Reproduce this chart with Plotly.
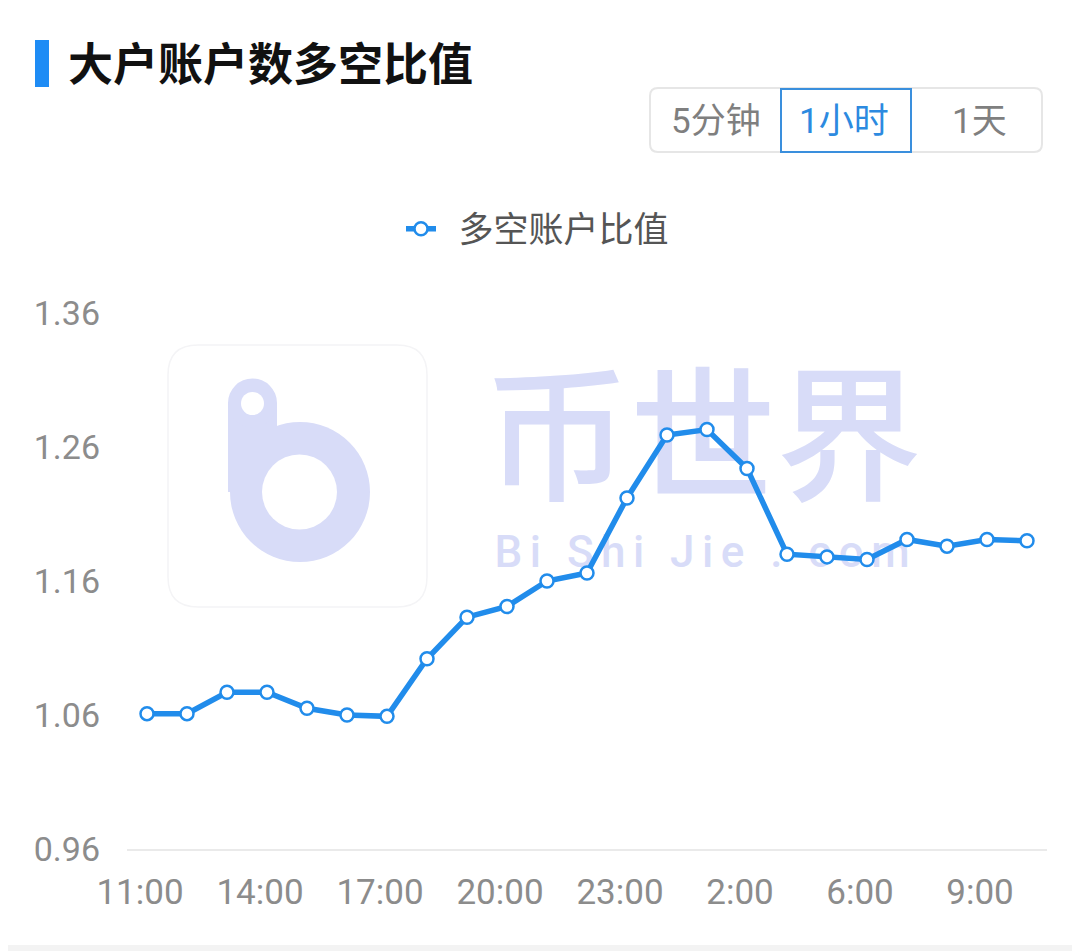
import plotly.graph_objects as go

# hourly long/short account ratio of large holders
hours = [
    "11:00", "12:00", "13:00", "14:00", "15:00", "16:00", "17:00", "18:00",
    "19:00", "20:00", "21:00", "22:00", "23:00", "0:00", "1:00", "2:00",
    "3:00", "4:00", "6:00", "7:00", "8:00", "9:00", "10:00",
]
ratio = [
    1.061, 1.061, 1.077, 1.077, 1.065, 1.060, 1.059, 1.102,
    1.133, 1.141, 1.160, 1.166, 1.222, 1.269, 1.273, 1.244,
    1.180, 1.178, 1.176, 1.191, 1.186, 1.191, 1.190,
]
label_hours = ["11:00", "14:00", "17:00", "20:00", "23:00", "2:00", "6:00", "9:00"]
y_ticks = [0.96, 1.06, 1.16, 1.26, 1.36]

BLUE = "#218CEB"
GREY = "#8C8C8C"
LAV = "#D8DCF8"
CJK = "Noto Sans CJK SC"
NUM = "Roboto, 'Noto Sans CJK SC', sans-serif"

W, H = 1080, 951
PAGE = 8  # body margin of the html page
L, R, T, B = 127, 1047, 313, 849  # plot area, in screen pixels


def px(x):
    return (x - L) / (R - L)


def py(y):
    return (B - y) / (B - T)


def rounded_rect(x0, y0, x1, y1, r):
    # pixel box -> paper path with rounded corners
    pts = [
        f"M {px(x0 + r)},{py(y0)}", f"L {px(x1 - r)},{py(y0)}",
        f"Q {px(x1)},{py(y0)} {px(x1)},{py(y0 + r)}", f"L {px(x1)},{py(y1 - r)}",
        f"Q {px(x1)},{py(y1)} {px(x1 - r)},{py(y1)}", f"L {px(x0 + r)},{py(y1)}",
        f"Q {px(x0)},{py(y1)} {px(x0)},{py(y1 - r)}", f"L {px(x0)},{py(y0 + r)}",
        f"Q {px(x0)},{py(y0)} {px(x0 + r)},{py(y0)}", "Z",
    ]
    return " ".join(pts)


sp = "\u2006"
site = sp.join("Bi Shi Jie . com")

fig = go.Figure()

# watermark on the hidden pixel axes (drawn underneath the data subplot)
fig.add_trace(go.Scatter(
    x=[703, 702], y=[452, 556],
    mode="text",
    text=["币世界", site],
    textfont=dict(family=[CJK, "Roboto"], size=[146, 44], color=LAV,
                  weight=500),
    showlegend=False, hoverinfo="skip",
))

fig.add_trace(go.Scatter(
    x=hours, y=ratio,
    mode="lines+markers",
    name="\u2002多空账户比值",
    xaxis="x2", yaxis="y2",
    line=dict(color=BLUE, width=5.5),
    marker=dict(color="white", size=13, line=dict(color=BLUE, width=2.5)),
    hovertemplate="%{x}<br>%{y:.3f}<extra></extra>",
))

shapes = [
    # logo watermark
    dict(type="path", xref="x", yref="y", layer="below",
         path="M 198,345 L 397,345 Q 427,345 427,375 L 427,577 Q 427,607 397,607 "
              "L 198,607 Q 168,607 168,577 L 168,375 Q 168,345 198,345 Z",
         line=dict(color="#F4F4F6", width=1.5), fillcolor="rgba(0,0,0,0)"),
    dict(type="circle", xref="x", yref="y", layer="below",
         x0=230, x1=370, y0=422, y1=562, fillcolor=LAV, line_width=0),
    dict(type="rect", xref="x", yref="y", layer="below",
         x0=228, x1=277, y0=403, y1=492, fillcolor=LAV, line_width=0),
    dict(type="circle", xref="x", yref="y", layer="below",
         x0=228, x1=277, y0=378.5, y1=427.5, fillcolor=LAV, line_width=0),
    dict(type="circle", xref="x", yref="y", layer="below",
         x0=262, x1=337, y0=454.5, y1=529.5, fillcolor="white", line_width=0),
    dict(type="circle", xref="x", yref="y", layer="below",
         x0=241, x1=264, y0=392, y1=415, fillcolor="white", line_width=0),
    # title marker bar
    dict(type="rect", xref="paper", yref="paper",
         x0=px(35), x1=px(49), y0=py(87), y1=py(40),
         fillcolor="#1E8CF5", line_width=0),
    # period switch
    dict(type="path", xref="paper", yref="paper",
         path=rounded_rect(650, 88, 1042, 152, 8),
         line=dict(color="#E6E6E6", width=2), fillcolor="white"),
    dict(type="rect", xref="paper", yref="paper",
         x0=px(781), x1=px(911), y0=py(152), y1=py(89),
         line=dict(color="#3A8FDD", width=2), fillcolor="rgba(0,0,0,0)"),
    # bottom strip
    dict(type="rect", xref="paper", yref="paper",
         x0=px(0), x1=px(W + PAGE), y0=py(H + PAGE), y1=py(945),
         fillcolor="#F3F3F3", line_width=0),
]

annotations = [
    dict(text="<b>大户账户数多空比值</b>", x=px(66), y=py(61),
         xanchor="left", yanchor="middle",
         font=dict(family=CJK, size=45, color="#111111")),
    dict(text="5分钟", x=px(716), y=py(121),
         font=dict(family=NUM, size=35, color="#7F7F7F")),
    dict(text="1小时", x=px(844), y=py(121),
         font=dict(family=NUM, size=35, color="#2C8AE0")),
    dict(text="1天", x=px(979), y=py(121),
         font=dict(family=NUM, size=35, color="#7F7F7F")),
]
for a in annotations:
    a.update(xref="paper", yref="paper", showarrow=False)
    a.setdefault("xanchor", "center")
    a.setdefault("yanchor", "middle")

fig.update_layout(
    width=W, height=H,
    margin=dict(l=L - PAGE, r=W - (R - PAGE), t=T - PAGE, b=H - (B - PAGE)),
    paper_bgcolor="white", plot_bgcolor="white",
    font=dict(family=NUM, color=GREY),
    shapes=shapes,
    annotations=annotations,
    showlegend=True,
    legend=dict(
        orientation="h", x=px(401), y=py(229),
        xanchor="left", yanchor="middle",
        font=dict(family=CJK, size=35, color="#555555"),
        bgcolor="rgba(0,0,0,0)",
    ),
    xaxis=dict(range=[L, R], visible=False, fixedrange=True),
    yaxis=dict(range=[B, T], visible=False, fixedrange=True),
    xaxis2=dict(
        overlaying="x", anchor="y2", side="bottom",
        type="category", range=[-0.5, len(hours) - 0.5],
        tickmode="array", tickvals=label_hours, ticktext=label_hours,
        showgrid=False, zeroline=False,
        showline=True, linecolor="#EAEAEA", linewidth=2,
        ticks="", ticklabelstandoff=11, ticklabelshift=-7,
        tickfont=dict(family=NUM, size=35, color=GREY),
    ),
    yaxis2=dict(
        overlaying="y", anchor="x2", side="left",
        range=[0.96, 1.36], tickmode="array",
        tickvals=y_ticks, ticktext=[f"{v:.2f}" for v in y_ticks],
        showgrid=False, zeroline=False, showline=False,
        ticks="", ticklabelstandoff=26,
        tickfont=dict(family=NUM, size=34, color=GREY),
    ),
)

fig.write_html("out.html")
